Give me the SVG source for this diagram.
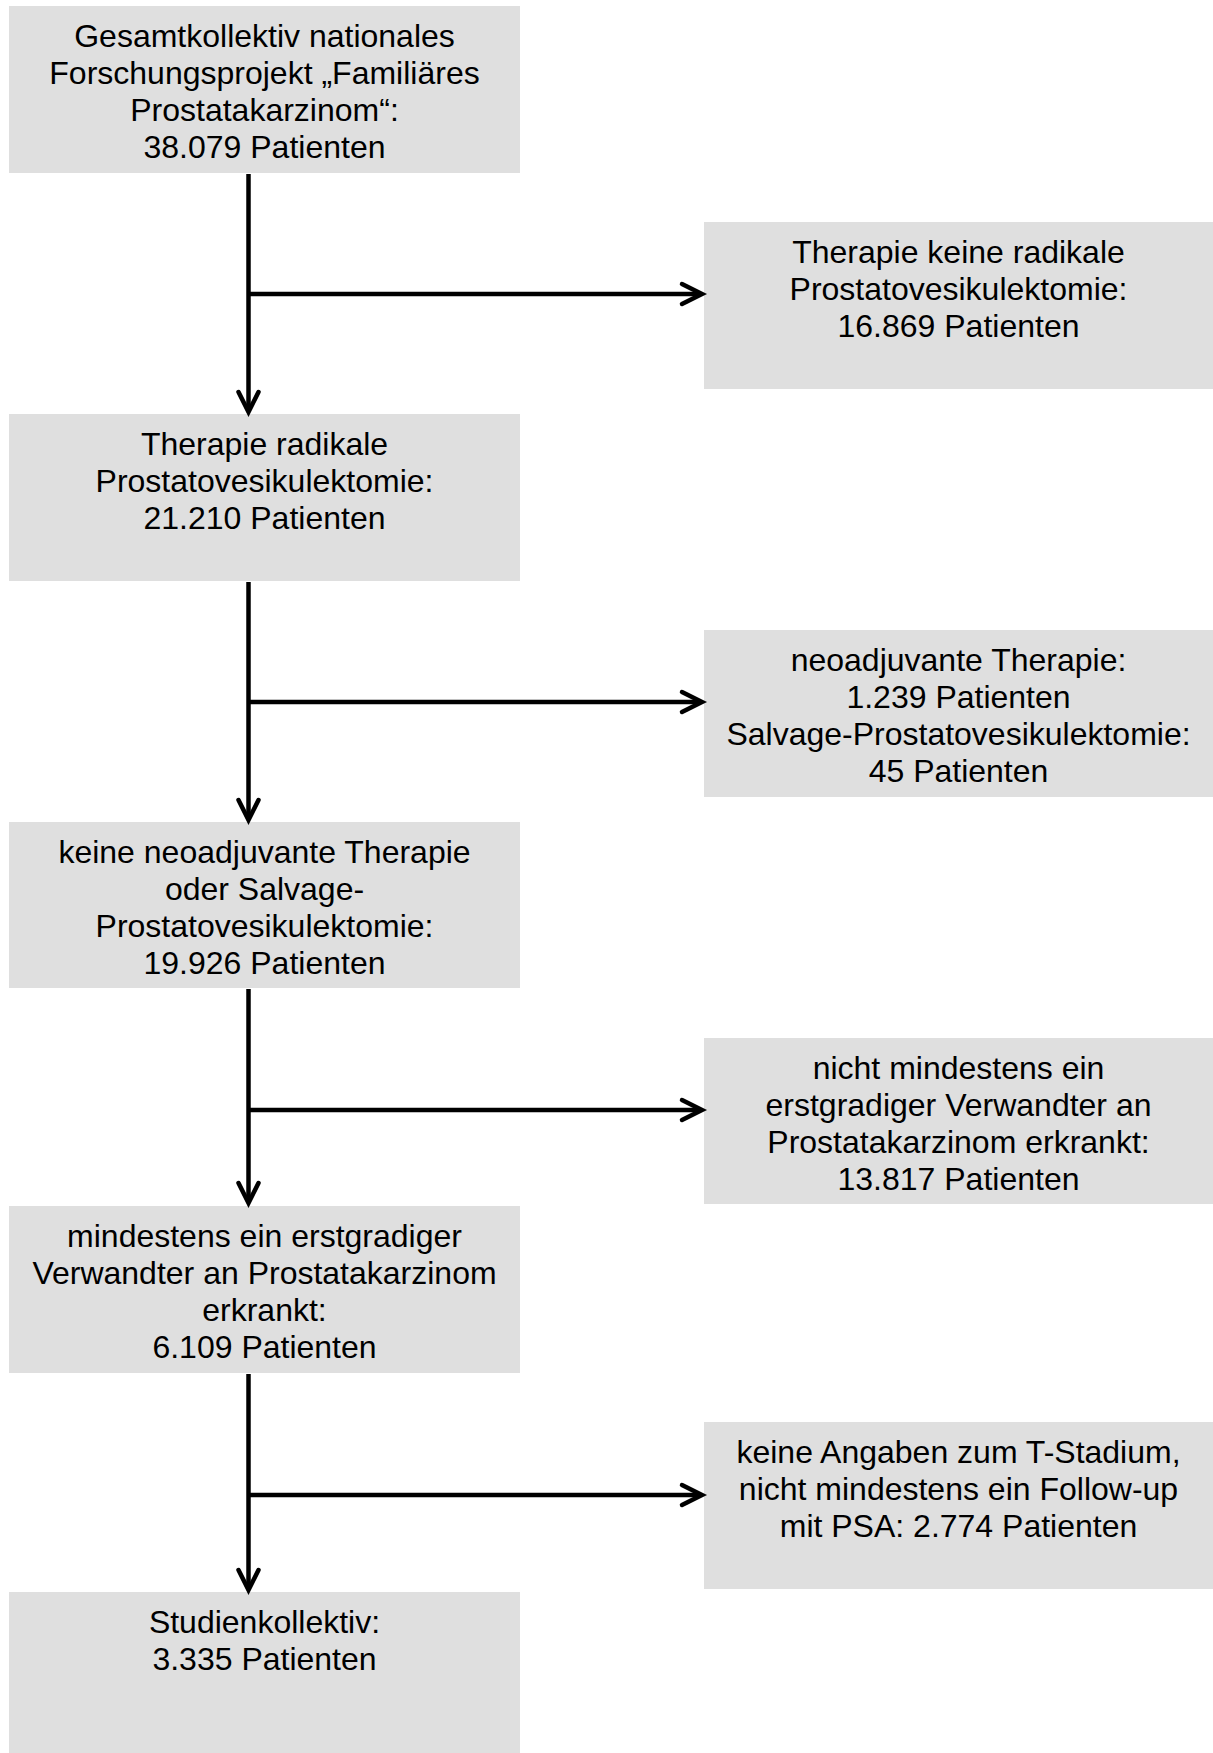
<svg xmlns="http://www.w3.org/2000/svg" width="1213" height="1753" viewBox="0 0 1213 1753">
<style>
.box{fill:#dfdfdf;stroke:none}
.t{font-family:"Liberation Sans",Arial,sans-serif;font-size:32px;fill:#000;text-anchor:middle}
.c{stroke:#000;stroke-width:4.5;fill:none}
.h{stroke:#000;stroke-width:4.5;fill:none;stroke-linecap:round;stroke-linejoin:miter}
</style>
<rect width="1213" height="1753" fill="#fff"/>
<g id="n1"><rect class="box" x="9" y="6" width="511" height="167"/>
<text class="t"><tspan x="264.5" y="47">Gesamtkollektiv nationales</tspan><tspan x="264.5" y="84">Forschungsprojekt „Familiäres</tspan><tspan x="264.5" y="121">Prostatakarzinom“:</tspan><tspan x="264.5" y="158">38.079 Patienten</tspan></text></g>
<g id="r1"><rect class="box" x="704" y="222" width="509" height="167"/>
<text class="t"><tspan x="958.5" y="263">Therapie keine radikale</tspan><tspan x="958.5" y="300">Prostatovesikulektomie:</tspan><tspan x="958.5" y="337">16.869 Patienten</tspan></text></g>
<g id="n2"><rect class="box" x="9" y="414" width="511" height="167"/>
<text class="t"><tspan x="264.5" y="455">Therapie radikale</tspan><tspan x="264.5" y="492">Prostatovesikulektomie:</tspan><tspan x="264.5" y="529">21.210 Patienten</tspan></text></g>
<g id="r2"><rect class="box" x="704" y="630" width="509" height="167"/>
<text class="t"><tspan x="958.5" y="671">neoadjuvante Therapie:</tspan><tspan x="958.5" y="708">1.239 Patienten</tspan><tspan x="958.5" y="745">Salvage-Prostatovesikulektomie:</tspan><tspan x="958.5" y="782">45 Patienten</tspan></text></g>
<g id="n3"><rect class="box" x="9" y="822" width="511" height="166"/>
<text class="t"><tspan x="264.5" y="863">keine neoadjuvante Therapie</tspan><tspan x="264.5" y="900">oder Salvage-</tspan><tspan x="264.5" y="937">Prostatovesikulektomie:</tspan><tspan x="264.5" y="974">19.926 Patienten</tspan></text></g>
<g id="r3"><rect class="box" x="704" y="1038" width="509" height="166"/>
<text class="t"><tspan x="958.5" y="1079">nicht mindestens ein</tspan><tspan x="958.5" y="1116">erstgradiger Verwandter an</tspan><tspan x="958.5" y="1153">Prostatakarzinom erkrankt:</tspan><tspan x="958.5" y="1190">13.817 Patienten</tspan></text></g>
<g id="n4"><rect class="box" x="9" y="1206" width="511" height="167"/>
<text class="t"><tspan x="264.5" y="1247">mindestens ein erstgradiger</tspan><tspan x="264.5" y="1284">Verwandter an Prostatakarzinom</tspan><tspan x="264.5" y="1321">erkrankt:</tspan><tspan x="264.5" y="1358">6.109 Patienten</tspan></text></g>
<g id="r4"><rect class="box" x="704" y="1422" width="509" height="167"/>
<text class="t"><tspan x="958.5" y="1463">keine Angaben zum T-Stadium,</tspan><tspan x="958.5" y="1500">nicht mindestens ein Follow-up</tspan><tspan x="958.5" y="1537">mit PSA: 2.774 Patienten</tspan></text></g>
<g id="n5"><rect class="box" x="9" y="1592" width="511" height="167"/>
<text class="t"><tspan x="264.5" y="1633">Studienkollektiv:</tspan><tspan x="264.5" y="1670">3.335 Patienten</tspan></text></g>
<g id="connectors">
<line class="c" x1="248.5" y1="174" x2="248.5" y2="410"/>
<polyline class="h" points="238.5,392 248.5,412 258.5,392"/>
<line class="c" x1="248.5" y1="294" x2="700" y2="294"/>
<polyline class="h" points="682,284 702,294 682,304"/>
<line class="c" x1="248.5" y1="582" x2="248.5" y2="818"/>
<polyline class="h" points="238.5,800 248.5,820 258.5,800"/>
<line class="c" x1="248.5" y1="702" x2="700" y2="702"/>
<polyline class="h" points="682,692 702,702 682,712"/>
<line class="c" x1="248.5" y1="989" x2="248.5" y2="1201"/>
<polyline class="h" points="238.5,1183 248.5,1203 258.5,1183"/>
<line class="c" x1="248.5" y1="1110" x2="700" y2="1110"/>
<polyline class="h" points="682,1100 702,1110 682,1120"/>
<line class="c" x1="248.5" y1="1374" x2="248.5" y2="1588"/>
<polyline class="h" points="238.5,1570 248.5,1590 258.5,1570"/>
<line class="c" x1="248.5" y1="1495" x2="700" y2="1495"/>
<polyline class="h" points="682,1485 702,1495 682,1505"/>
</g>
</svg>
